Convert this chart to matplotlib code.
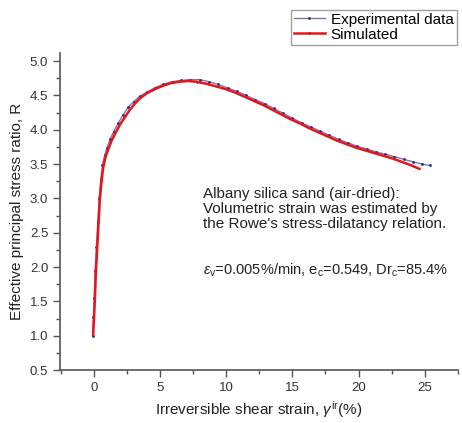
import numpy as np
import matplotlib.pyplot as plt
from matplotlib.ticker import MultipleLocator, FormatStrFormatter

plt.rcParams['font.family'] = ['Liberation Sans', 'DejaVu Sans']
plt.rcParams['mathtext.fontset'] = 'custom'
plt.rcParams['mathtext.rm'] = 'Liberation Sans'
plt.rcParams['mathtext.it'] = 'Liberation Sans:italic'

exp_strain = [-0.08, -0.03, 0.03, 0.1, 0.2, 0.3, 0.4, 0.52, 0.65, 0.82, 1.0, 1.25, 1.5,
              1.85, 2.2, 2.6, 3.0, 3.5, 4.0, 4.6, 5.2, 5.9, 6.6, 7.3, 8.0, 8.7, 9.4,
              10.1, 10.8, 11.5, 12.2, 12.9, 13.6, 14.3, 15.0, 15.7, 16.4, 17.1, 17.8,
              18.5, 19.2, 19.9, 20.6, 21.3, 22.0, 22.7, 23.4, 24.1, 24.8, 25.4]
exp_ratio = [1.0, 1.28, 1.55, 1.95, 2.3, 2.65, 3.0, 3.27, 3.48, 3.63, 3.74, 3.87, 3.97,
             4.1, 4.21, 4.33, 4.41, 4.49, 4.55, 4.61, 4.66, 4.7, 4.72, 4.73, 4.73, 4.7,
             4.66, 4.61, 4.56, 4.5, 4.44, 4.38, 4.31, 4.24, 4.17, 4.1, 4.04, 3.98, 3.92,
             3.86, 3.81, 3.76, 3.72, 3.68, 3.645, 3.61, 3.57, 3.535, 3.5, 3.48]

# Simulated
sim_strain = [-0.05, 0.02, 0.08, 0.15, 0.25, 0.35, 0.45, 0.58, 0.7, 0.88, 1.08, 1.34,
              1.6, 1.96, 2.34, 2.72, 3.1, 3.5, 4.0, 4.6, 5.2, 5.85, 6.5, 7.1, 7.76, 8.5,
              9.27, 10.0, 10.7, 11.4, 12.1, 12.8, 13.5, 14.2, 14.9, 15.6, 16.3, 17.0,
              17.7, 18.4, 19.1, 19.8, 20.5, 21.2, 21.9, 22.6, 23.3, 24.0, 24.6]
sim_ratio = [1.01, 1.28, 1.52, 1.91, 2.25, 2.61, 2.97, 3.24, 3.44, 3.6, 3.71, 3.84,
             3.94, 4.07, 4.18, 4.29, 4.38, 4.46, 4.53, 4.59, 4.64, 4.68, 4.7, 4.71, 4.7,
             4.67, 4.63, 4.59, 4.54, 4.48, 4.42, 4.36, 4.29, 4.22, 4.15, 4.09, 4.02,
             3.96, 3.9, 3.84, 3.79, 3.74, 3.7, 3.66, 3.62, 3.58, 3.53, 3.48, 3.43]

fig = plt.figure(figsize=(4.62, 4.23), dpi=100)
ax = fig.add_axes([0.13, 0.125, 0.861, 0.75])

ax.plot(exp_strain, exp_ratio, color='#7878a8', lw=1.0, marker='o', ms=1.0,
        mfc='#2a2a8a', mec='#2a2a8a', label='Experimental data', zorder=2)
ax.plot(sim_strain, sim_ratio, color='#e8141c', lw=1.8, marker='o', ms=1.0,
        markevery=[24], label='Simulated', zorder=3)

ax.set_xlim(-2.55, 27.5)
ax.set_ylim(0.5, 5.12)
ax.xaxis.set_major_locator(MultipleLocator(5))
ax.xaxis.set_minor_locator(MultipleLocator(2.5))
ax.yaxis.set_major_locator(MultipleLocator(0.5))
ax.yaxis.set_minor_locator(MultipleLocator(0.25))
ax.yaxis.set_major_formatter(FormatStrFormatter('%.1f'))

for s in ['top', 'right']:
    ax.spines[s].set_visible(False)
for s in ['left', 'bottom']:
    ax.spines[s].set_color('#555555')
    ax.spines[s].set_linewidth(1.2)
ax.tick_params(which='major', direction='out', length=5, width=1, color='#555555',
               labelsize=9.5, labelcolor='#333333')
ax.tick_params(which='minor', direction='out', length=3, width=1, color='#555555')

ax.set_xlabel(r'Irreversible shear strain, $\gamma^{\rm ir}$(%)', fontsize=11, color='#222222')
ax.set_ylabel('Effective principal stress ratio, R', fontsize=11, color='#222222')

ax.text(0.36, 0.578, "Albany silica sand (air-dried):\nVolumetric strain was estimated by\n"
        "the Rowe's stress-dilatancy relation.", transform=ax.transAxes, fontsize=11,
        va='top', ha='left', color='#222222', linespacing=1.1)
ax.text(0.36, 0.315, r'$\varepsilon_{\rm v}$=0.005%/min, e$_{\rm c}$=0.549, Dr$_{\rm c}$=85.4%',
        transform=ax.transAxes, fontsize=10.5, va='center', ha='left', color='#222222')

fig.legend(loc='upper right', bbox_to_anchor=(1.005, 0.995), fontsize=11, frameon=True,
           fancybox=False, edgecolor='#888888', borderpad=0.2, handlelength=2.0,
           labelspacing=0.05, handletextpad=0.4)

fig.savefig('out.png', dpi=100)
